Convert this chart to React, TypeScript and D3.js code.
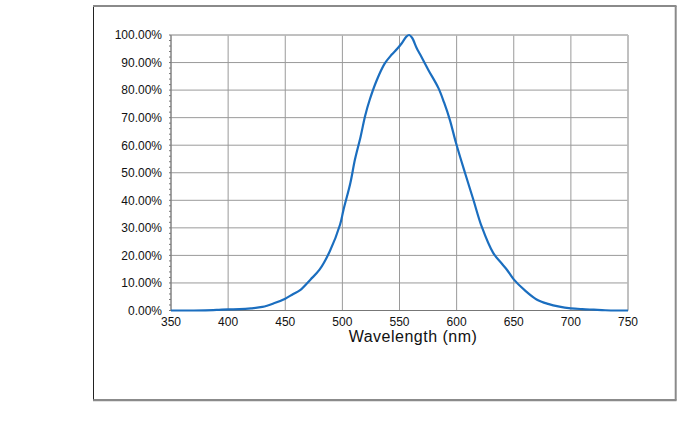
import React from "react";
import * as d3 from "d3";

const wavelengths = [350, 360, 370, 380, 390, 400, 410, 420, 430, 440, 450, 457, 463, 472, 480, 489, 498, 501, 507, 511, 516, 520, 524, 530, 537, 543, 548, 552, 556, 558.5, 561, 565, 568, 575, 584, 589, 594, 599.4, 607.3, 614.6, 621.9, 632, 640, 644, 650, 660, 670, 680, 690, 700, 710, 720, 730, 740, 750];
const intensity = [0, 0, 0, 0.05, 0.2, 0.4, 0.5, 0.8, 1.3, 2.6, 4.3, 6, 7.4, 11.2, 14.8, 21.5, 31.2, 36.6, 46.3, 54.8, 63.2, 70.8, 76.6, 83.5, 89.6, 92.8, 95, 97, 99.4, 100, 99, 95.3, 93, 87.5, 80.8, 75.5, 69.3, 60.9, 50, 40.3, 30.5, 20.9, 16.8, 14.8, 11.3, 7.2, 4, 2.4, 1.4, 0.8, 0.5, 0.3, 0.1, 0, 0];

const xTicks = [350, 400, 450, 500, 550, 600, 650, 700, 750];
const yTicks = [0, 10, 20, 30, 40, 50, 60, 70, 80, 90, 100];
const yMinorTicks = d3.range(0, 101, 2);

export default function App() {
  const W = 686, H = 433;
  const left = 171, right = 628, top = 35, bottom = 310.5;
  const x = d3.scaleLinear().domain([350, 750]).range([left, right]);
  const y = d3.scaleLinear().domain([0, 100]).range([bottom, top]);
  const pts: [number, number][] = wavelengths.map((w, i) => [w, intensity[i]]);
  const line = d3
    .line<[number, number]>()
    .x((d) => x(d[0]))
    .y((d) => y(d[1]))
    .curve(d3.curveCatmullRom.alpha(0.5));
  const font = "Liberation Sans, Arial, sans-serif";

  return (
    <svg width={W} height={H} style={{ position: "absolute", left: 0, top: 0 }}>
      <rect x={0} y={0} width={W} height={H} fill="#fff" />
      {/* outer frame */}
      <rect x={93.5} y={6.5} width={582} height={393.5} fill="none" stroke="#222" strokeWidth={1} />
      <line x1={93} y1={6} x2={676.5} y2={6} stroke="#8a8a8a" strokeWidth={2} />
      <line x1={675.7} y1={6} x2={675.7} y2={400.5} stroke="#8a8a8a" strokeWidth={2} />
      <line x1={93} y1={400.3} x2={676.5} y2={400.3} stroke="#8a8a8a" strokeWidth={2} />

      {/* grid */}
      {yTicks.map((t) => (
        <line key={"gy" + t} x1={left} x2={right} y1={y(t)} y2={y(t)} stroke="#9a9a9a" strokeWidth={1} />
      ))}
      {xTicks.map((t) => (
        <line key={"gx" + t} x1={x(t)} x2={x(t)} y1={top} y2={bottom} stroke="#9a9a9a" strokeWidth={1} />
      ))}
      <line x1={right} x2={right} y1={top} y2={bottom} stroke="#bdbdbd" strokeWidth={1.5} />
      <line x1={left} x2={right} y1={top} y2={top} stroke="#bdbdbd" strokeWidth={1.5} />

      {/* axes */}
      <line x1={left} x2={left} y1={top} y2={bottom} stroke="#777" strokeWidth={1} />
      {yMinorTicks.map((t) => (
        <line key={"my" + t} x1={left - 2} x2={left} y1={y(t)} y2={y(t)} stroke="#777" strokeWidth={1} />
      ))}
      <line x1={left} x2={right} y1={bottom} y2={bottom} stroke="#777" strokeWidth={1} />

      {/* curve */}
      <path d={line(pts) || ""} fill="none" stroke="#1b6ebf" strokeWidth={2.2} strokeLinejoin="round" />

      {/* labels */}
      {yTicks.map((t) => (
        <text key={"ly" + t} x={162} y={y(t) + 4.3} textAnchor="end" fontFamily={font} fontSize={12} fill="#111">
          {t.toFixed(2) + "%"}
        </text>
      ))}
      {xTicks.map((t) => (
        <text key={"lx" + t} x={x(t)} y={325.5} textAnchor="middle" fontFamily={font} fontSize={12} fill="#111">
          {t}
        </text>
      ))}
      <text x={413} y={342} textAnchor="middle" fontFamily={font} fontSize={16} letterSpacing={0.5} fill="#111">
        Wavelength (nm)
      </text>
    </svg>
  );
}
